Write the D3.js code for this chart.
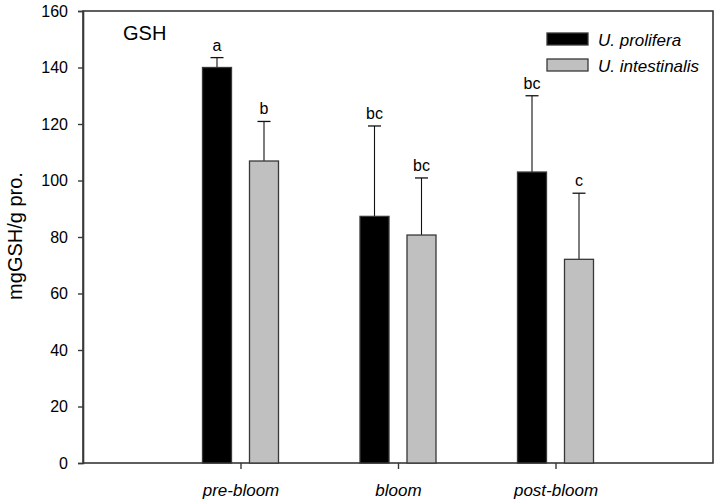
<!DOCTYPE html>
<html>
<head>
<meta charset="utf-8">
<script src="https://cdn.jsdelivr.net/npm/d3@7/dist/d3.min.js"></script>
<style>
  body { margin: 0; background: #fff; }
  text { font-family: "Liberation Sans", Arial, sans-serif; fill: #000; }
</style>
</head>
<body>
<svg id="chart" width="718" height="504"></svg>
<script>
// data
const stages = ["pre-bloom", "bloom", "post-bloom"];
const series_names = ["U. prolifera", "U. intestinalis"];
const prolifera = [140, 87.3, 103];
const prolifera_err = [3.5, 32, 27];
const intestinalis = [106.9, 80.7, 72.1];
const intestinalis_err = [14, 20.2, 23.4];
const prolifera_letters = ["a", "bc", "bc"];
const intestinalis_letters = ["b", "bc", "c"];
const y_ticks = [0, 20, 40, 60, 80, 100, 120, 140, 160];

const svg = d3.select("#chart");
const plot_l = 83, plot_r = 713, plot_t = 11, plot_b = 463;
const axis_col = "#383838";

const x = d3.scaleLinear().domain([0, stages.length + 1]).range([plot_l, plot_r]);
const y = d3.scaleLinear().domain([0, 160]).range([plot_b, plot_t]);

const bar_w = 29, offset = 23.5;
const series = [
    { name: series_names[0], vals: prolifera, err: prolifera_err, letters: prolifera_letters, fill: "#000", dx: -offset },
    { name: series_names[1], vals: intestinalis, err: intestinalis_err, letters: intestinalis_letters, fill: "#c0c0c0", dx: offset }
];

// frame
svg.append("rect")
    .attr("x", plot_l).attr("y", plot_t)
    .attr("width", plot_r - plot_l).attr("height", plot_b - plot_t)
    .attr("fill", "none").attr("stroke", axis_col).attr("stroke-width", 1.6);

series.forEach(s => {
    const g = svg.append("g");
    // error bars (upper only)
    stages.forEach((st, i) => {
        const cx = x(i + 1) + s.dx;
        g.append("line")
            .attr("x1", cx).attr("x2", cx)
            .attr("y1", y(s.vals[i])).attr("y2", y(s.vals[i] + s.err[i]))
            .attr("stroke", "#111").attr("stroke-width", 1.1);
        g.append("line")
            .attr("x1", cx - 6.5).attr("x2", cx + 6.5)
            .attr("y1", y(s.vals[i] + s.err[i])).attr("y2", y(s.vals[i] + s.err[i]))
            .attr("stroke", "#111").attr("stroke-width", 1.3);
        g.append("text")
            .attr("x", cx).attr("y", y(s.vals[i] + s.err[i]) - 7)
            .attr("text-anchor", "middle")
            .style("font-size", "16px")
            .text(s.letters[i]);
    });
    g.selectAll("rect").data(s.vals).enter().append("rect")
        .attr("x", (d, i) => x(i + 1) + s.dx - bar_w / 2)
        .attr("y", d => y(d))
        .attr("width", bar_w)
        .attr("height", d => y(0) - y(d))
        .attr("fill", s.fill)
        .attr("stroke", axis_col).attr("stroke-width", 1.3);
});

// y axis
const yAxis = svg.append("g")
    .attr("transform", `translate(${plot_l},0)`)
    .call(d3.axisLeft(y).tickValues(y_ticks).tickSize(5).tickPadding(10).tickFormat(d3.format("d")));
yAxis.select(".domain").attr("stroke", axis_col).attr("stroke-width", 1.6);
yAxis.selectAll(".tick line").attr("stroke", axis_col).attr("stroke-width", 1.4);
yAxis.selectAll(".tick text").style("font-size", "16px").style("font-family", "Liberation Sans, Arial, sans-serif").attr("fill", "#000");

// x axis
const xAxis = svg.append("g")
    .attr("transform", `translate(0,${plot_b})`)
    .call(d3.axisBottom(x).tickValues([1, 2, 3]).tickSize(6).tickPadding(15)
        .tickFormat(d => stages[d - 1]));
xAxis.select(".domain").remove();
xAxis.selectAll(".tick line").attr("stroke", axis_col).attr("stroke-width", 1.4);
xAxis.selectAll(".tick text")
    .style("font-size", "17px").style("font-style", "italic")
    .style("font-family", "Liberation Sans, Arial, sans-serif").attr("fill", "#000");

// y label
svg.append("text")
    .attr("transform", `translate(22,${(plot_t + plot_b) / 2 - 1}) rotate(-90)`)
    .attr("text-anchor", "middle")
    .style("font-size", "20px")
    .text("mgGSH/g pro.");

// panel title
svg.append("text")
    .attr("x", 123).attr("y", 40)
    .style("font-size", "20px")
    .text("GSH");

// legend
series.forEach((s, i) => {
    const ly = 33 + i * 26;
    svg.append("rect")
        .attr("x", 547).attr("y", ly)
        .attr("width", 41).attr("height", 12)
        .attr("fill", s.fill).attr("stroke", axis_col).attr("stroke-width", 1.3);
    svg.append("text")
        .attr("x", 598).attr("y", ly + 13)
        .style("font-size", "17px").style("font-style", "italic")
        .text(s.name);
});
</script>
</body>
</html>
